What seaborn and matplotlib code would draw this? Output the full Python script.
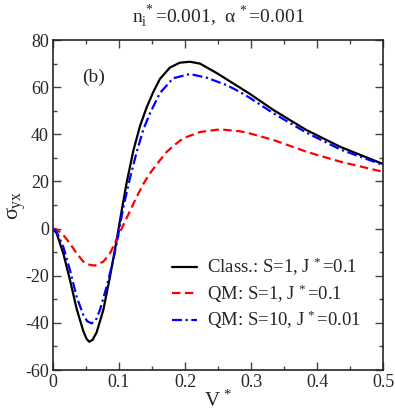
import numpy as np
import pandas as pd
import matplotlib
matplotlib.use('Agg')
import matplotlib.pyplot as plt
from matplotlib.ticker import MultipleLocator
import seaborn as sns

# values
v_class = [0.0, 0.0056, 0.0157, 0.0258, 0.0359, 0.046, 0.051, 0.055, 0.060, 0.0662,
           0.0763, 0.0864, 0.0965, 0.104, 0.1116, 0.1217, 0.1318, 0.142, 0.152, 0.162,
           0.177, 0.192, 0.2076, 0.2227, 0.248, 0.273, 0.298, 0.334, 0.384, 0.435, 0.5]
s_class = [0.0, -2.0, -10.5, -21.8, -34.0, -43.5, -46.8, -48.0, -47.2, -44.0,
           -34.5, -20.4, -4.8, 7.5, 19.5, 33.0, 43.5, 51.5, 58.0, 63.5,
           68.3, 70.4, 70.8, 70.0, 66.0, 61.6, 57.2, 50.3, 41.8, 34.7, 27.4]

v_qm1 = [0.0, 0.0056, 0.0157, 0.0258, 0.0359, 0.046, 0.055, 0.0636, 0.0763, 0.0864,
         0.0965, 0.1066, 0.1167, 0.1268, 0.137, 0.147, 0.162, 0.172, 0.182, 0.197,
         0.2227, 0.253, 0.2833, 0.298, 0.334, 0.384, 0.435, 0.5]
s_qm1 = [0.0, -0.3, -2.7, -6.3, -10.5, -14.0, -15.3, -15.7, -14.0, -10.5,
         -4.5, 1.5, 7.5, 13.5, 19.0, 23.5, 29.0, 32.5, 35.0, 38.3,
         41.0, 42.1, 41.3, 40.4, 37.6, 32.6, 28.4, 24.1]

v_qm10 = [0.0, 0.0056, 0.0157, 0.0258, 0.0359, 0.046, 0.052, 0.0586, 0.065, 0.0712,
          0.0813, 0.0914, 0.099, 0.1066, 0.1167, 0.1268, 0.1368, 0.147, 0.162, 0.182,
          0.2076, 0.233, 0.263, 0.283, 0.298, 0.334, 0.384, 0.435, 0.5]
s_qm10 = [0.0, -1.3, -7.7, -17.6, -28.9, -36.7, -39.3, -40.2, -38.8, -34.5,
          -24.6, -13.3, -2.5, 9.0, 21.5, 32.5, 42.0, 49.0, 57.5, 63.8,
          65.6, 64.0, 60.9, 58.0, 55.5, 48.9, 40.7, 33.6, 27.0]

labels = [r'Class.: S=1, J$^{\,*}$=0.1', r'QM: S=1, J$^{\,*}$=0.1', r'QM: S=10, J$^{\,*}$=0.01']
xticks = [0, 0.1, 0.2, 0.3, 0.4, 0.5]
xticklabels = ['0', '0.1', '0.2', '0.3', '0.4', '0.5']

sns.set_style('ticks')
plt.rcParams['font.family'] = ['Liberation Serif', 'DejaVu Serif']
plt.rcParams['mathtext.fontset'] = 'custom'
plt.rcParams['mathtext.rm'] = 'Liberation Serif'
plt.rcParams['mathtext.it'] = 'Liberation Serif'
plt.rcParams['font.size'] = 13
plt.rcParams['axes.unicode_minus'] = False

fig = plt.figure(figsize=(3.95, 4.13), dpi=100)
ax = fig.add_axes([0.134, 0.104, 0.836, 0.799])

sns.lineplot(x=v_class, y=s_class, ax=ax, color='black', lw=1.6, label=labels[0],
             sort=False, estimator=None)
sns.lineplot(x=v_qm1, y=s_qm1, ax=ax, color='#ff0000', lw=1.6, label=labels[1],
             sort=False, estimator=None, linestyle=(0, (3.8, 2.0)))
sns.lineplot(x=v_qm10, y=s_qm10, ax=ax, color='#0000ff', lw=1.6, label=labels[2],
             sort=False, estimator=None, linestyle=(0, (4.5, 1.6, 1.0, 1.6)))

ax.set_xlim(0, 0.5)
ax.set_ylim(-60, 80)
ax.set_xticks(xticks)
ax.set_xticklabels(xticklabels)
ax.xaxis.set_minor_locator(MultipleLocator(0.05))
ax.yaxis.set_major_locator(MultipleLocator(20))
ax.yaxis.set_minor_locator(MultipleLocator(10))
ax.tick_params(which='both', direction='in', top=True, right=True, labelsize=13,
               width=1.0, color='#444444', pad=3)
ax.tick_params(which='major', length=6)
ax.tick_params(which='minor', length=3)
for sp in ax.spines.values():
    sp.set_linewidth(1.2)

ax.set_xlabel(r'V$^{\,*}$', fontsize=15)
ax.xaxis.set_label_coords(0.5, -0.062)
ax.set_ylabel(r'$\sigma_{\rm yx}$', fontsize=16)
ax.yaxis.set_label_coords(-0.075, 0.5)
fig.text(218 / 395, 1 - 17 / 413, r'n$_{\rm i}^{\,*}$=0.001,  $\alpha^{\,*}$=0.001',
         fontsize=14, ha='center', va='center')
ax.text(0.061, 64.3, '(b)', fontsize=14, ha='center', va='center')

ax.legend(loc='lower right', frameon=False, fontsize=13.5, handlelength=1.3,
          handletextpad=0.55, labelspacing=0.22, borderaxespad=0.0,
          bbox_to_anchor=(0.955, 0.095))

fig.savefig('out.png', dpi=100)
